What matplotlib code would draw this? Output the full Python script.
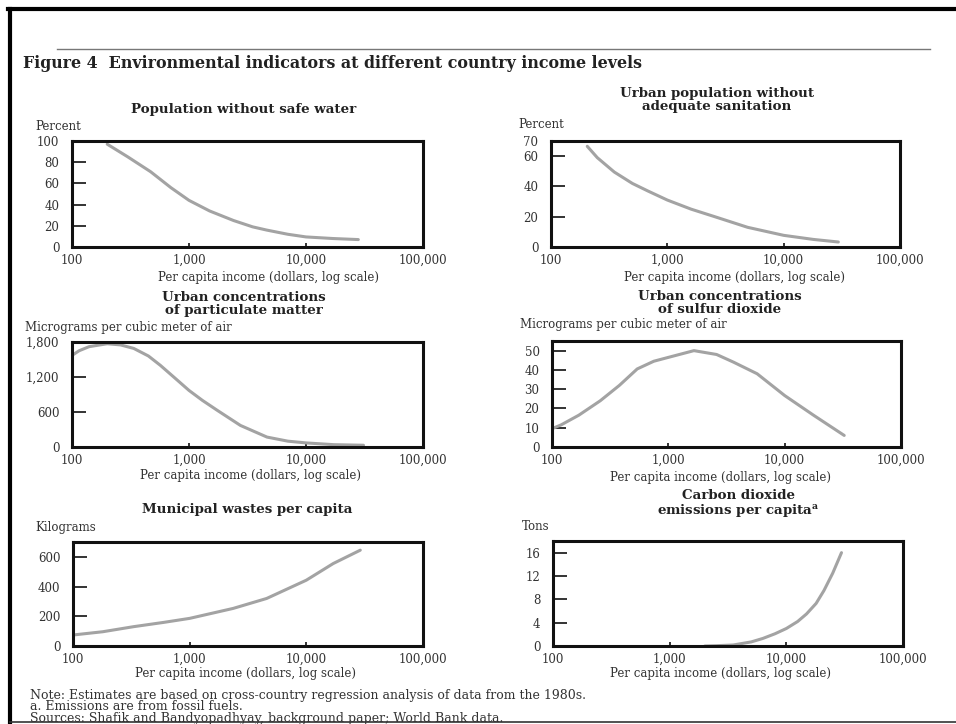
import matplotlib
matplotlib.use("Agg")
import matplotlib.pyplot as plt
from matplotlib.ticker import FixedLocator, FixedFormatter, NullLocator

# income levels (dollars) and values
water_x = [200, 300, 470, 700, 1000, 1500, 2400, 3500, 4600, 7000, 10000, 17000, 28000]
water_y = [97, 85, 71, 56, 44, 34, 25, 19, 16, 12, 9.5, 8, 7]

sanit_x = [205, 250, 350, 500, 680, 1000, 1600, 2560, 4900, 10000, 18000, 29500]
sanit_y = [66.5, 59, 49.5, 42, 37, 31, 25, 20, 13, 7.7, 5, 3.3]

partic_x = [100, 115, 140, 200, 260, 337, 450, 569, 750, 1000, 1300, 1740, 2750, 4640, 7000, 10000, 17300, 31000]
partic_y = [1570, 1650, 1720, 1770, 1750, 1690, 1560, 1400, 1190, 970, 800, 630, 370, 170, 100, 70, 40, 30]

so2_x = [100, 120, 170, 260, 380, 540, 750, 1000, 1660, 2600, 3640, 5800, 10000, 17800, 32500]
so2_y = [9.5, 11.5, 16.5, 24, 32, 40.5, 44.5, 46.5, 50, 48, 44, 38, 26.7, 16.4, 6]

waste_x = [100, 180, 330, 600, 1000, 2360, 4570, 10000, 17000, 29000]
waste_y = [74, 96, 130, 159, 186, 253, 320, 443, 555, 645]

co2_x = [2000, 2500, 3500, 5000, 6300, 8000, 10000, 12500, 14900, 18000, 21000, 25000, 29700]
co2_y = [0, 0.05, 0.17, 0.7, 1.3, 2.1, 3, 4.2, 5.5, 7.3, 9.5, 12.5, 16]

income_ticks = [100, 1000, 10000, 100000]
income_labels = ["100", "1,000", "10,000", "100,000"]

notes = [
    "Note: Estimates are based on cross-country regression analysis of data from the 1980s.",
    "a. Emissions are from fossil fuels.",
    "Sources: Shafik and Bandyopadhyay, background paper; World Bank data.",
]

W, H = 956, 724
SERIF = "DejaVu Serif"
TXT = "#333333"
DARK = "#111111"
HEAD = "#222222"

fig = plt.figure(figsize=(W / 100, H / 100), dpi=100)
fig.patch.set_facecolor("white")


def ftext(x, y, s, **kw):
    kw.setdefault("family", SERIF)
    kw.setdefault("color", TXT)
    kw.setdefault("va", "center")
    fig.text(x / W, 1 - y / H, s, **kw)


def panel(x0, y0, x1, y1, xs, ys, ymax, yticks, ylabels):
    ax = fig.add_axes([x0 / W, 1 - y1 / H, (x1 - x0) / W, (y1 - y0) / H])
    ax.plot(xs, ys, color="#a3a3a3", lw=2.2, solid_capstyle="round",
            solid_joinstyle="round")
    ax.set_xscale("log")
    ax.set_xlim(100, 100000)
    ax.set_ylim(0, ymax)
    ax.xaxis.set_major_locator(FixedLocator(income_ticks))
    ax.xaxis.set_major_formatter(FixedFormatter(income_labels))
    ax.xaxis.set_minor_locator(NullLocator())
    ax.yaxis.set_major_locator(FixedLocator(yticks))
    ax.yaxis.set_major_formatter(FixedFormatter(ylabels))
    ax.tick_params(axis="y", direction="in", length=10, width=1.2, color=DARK,
                   pad=9, labelsize=8.5, labelcolor=TXT)
    ax.tick_params(axis="x", direction="in", length=3, width=1.2, color=DARK,
                   pad=5, labelsize=8.5, labelcolor=TXT)
    for lab in ax.get_xticklabels() + ax.get_yticklabels():
        lab.set_family(SERIF)
    for sp in ax.spines.values():
        sp.set_linewidth(2.2)
        sp.set_color(DARK)
    return ax


# page frame and rule
fig.add_artist(plt.Line2D([8 / W, 1], [1 - 9 / H, 1 - 9 / H], color="black", lw=3))
fig.add_artist(plt.Line2D([10 / W, 10 / W], [1 - 9 / H, 1 - 722 / H], color="black", lw=3))
fig.add_artist(plt.Line2D([10 / W, 1], [1 - 722 / H, 1 - 722 / H], color="#333333", lw=1.2))
fig.add_artist(plt.Line2D([57 / W, 930 / W], [1 - 49 / H, 1 - 49 / H], color="#777777", lw=1))

ftext(23, 64, "Figure 4  Environmental indicators at different country income levels",
      fontsize=11.4, fontweight="bold", color=HEAD)

XLAB = "Per capita income (dollars, log scale)"

# panel 1
panel(72, 141, 423, 247, water_x, water_y, 100,
      [0, 20, 40, 60, 80, 100], ["0", "20", "40", "60", "80", "100"])
ftext(244, 110, "Population without safe water", fontsize=9.6, fontweight="bold",
      ha="center", color=HEAD)
ftext(35, 126, "Percent", fontsize=8.5)
ftext(268, 277, XLAB, fontsize=8.5, ha="center")

# panel 2
panel(551, 141, 900, 247, sanit_x, sanit_y, 70,
      [0, 20, 40, 60, 70], ["0", "20", "40", "60", "70"])
ftext(717, 100, "Urban population without\nadequate sanitation", fontsize=9.6,
      fontweight="bold", ha="center", color=HEAD, linespacing=0.95)
ftext(518, 125, "Percent", fontsize=8.5)
ftext(734, 277, XLAB, fontsize=8.5, ha="center")

# panel 3
panel(72, 342, 423, 447, partic_x, partic_y, 1800,
      [0, 600, 1200, 1800], ["0", "600", "1,200", "1,800"])
ftext(244, 304, "Urban concentrations\nof particulate matter", fontsize=9.6,
      fontweight="bold", ha="center", color=HEAD, linespacing=0.95)
ftext(25, 327, "Micrograms per cubic meter of air", fontsize=8.5)
ftext(251, 476, XLAB, fontsize=8.5, ha="center")

# panel 4
panel(552, 341, 901, 447, so2_x, so2_y, 55,
      [0, 10, 20, 30, 40, 50], ["0", "10", "20", "30", "40", "50"])
ftext(720, 303, "Urban concentrations\nof sulfur dioxide", fontsize=9.6,
      fontweight="bold", ha="center", color=HEAD, linespacing=0.95)
ftext(520, 325, "Micrograms per cubic meter of air", fontsize=8.5)
ftext(720, 477, XLAB, fontsize=8.5, ha="center")

# panel 5
panel(73, 542, 423, 646, waste_x, waste_y, 700,
      [0, 200, 400, 600], ["0", "200", "400", "600"])
ftext(247, 510, "Municipal wastes per capita", fontsize=9.6, fontweight="bold",
      ha="center", color=HEAD)
ftext(35, 527, "Kilograms", fontsize=8.5)
ftext(246, 674, XLAB, fontsize=8.5, ha="center")

# panel 6
panel(553, 541, 903, 646, co2_x, co2_y, 18,
      [0, 4, 8, 12, 16], ["0", "4", "8", "12", "16"])
ftext(738, 504, "Carbon dioxide\nemissions per capita$^{\\mathregular{a}}$", fontsize=9.6,
      fontweight="bold", ha="center", color=HEAD, linespacing=0.95)
ftext(522, 527, "Tons", fontsize=8.5)
ftext(720, 674, XLAB, fontsize=8.5, ha="center")

# notes, as one block so the tight lines do not collide
ftext(30, 707, "\n".join(notes), fontsize=9.0, linespacing=0.86)

fig.savefig("out.png", dpi=100, facecolor="white")
